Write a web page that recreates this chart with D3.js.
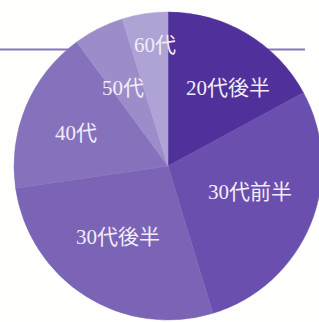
<!DOCTYPE html>
<html>
<head>
<meta charset="utf-8">
<script src="https://cdn.jsdelivr.net/npm/d3@7"></script>
<style>
  html, body { margin: 0; padding: 0; background: #fefefc; }
  svg { display: block; }
</style>
</head>
<body>
<svg></svg>
<script>
var width = 319;
var height = 322;

// age groups, clockwise from 12 o'clock
var labels = ["20代後半", "30代前半", "30代後半", "40代", "50代", "60代"];
var values = [17.1, 28.2, 27.4, 17.2, 5.3, 4.8];
var colors = ["#50309b", "#6a4fae", "#7b64b6", "#8671bd", "#9c8dca", "#aea3d4"];
// label centres (x, y)
var labelX = [228, 250, 118, 76, 123, 155];
var labelY = [88, 192, 237, 133, 88, 45];

const svg = d3.select('svg')
    .attr('width', width)
    .attr('height', height);

// thin rule behind the pie
svg.append('line')
    .attr('x1', 0).attr('x2', 305)
    .attr('y1', 49.5).attr('y2', 49.5)
    .attr('stroke', '#8677bd')
    .attr('stroke-width', 2);

var cx = 168, cy = 166, r = 154;

const pie = d3.pie().sort(null).value(d => d);
const arc = d3.arc().innerRadius(0).outerRadius(r);
const arcs = pie(values);

const g = svg.append('g')
    .attr('transform', `translate(${cx}, ${cy})`);

g.selectAll('path')
    .data(arcs)
    .enter().append('path')
    .attr('d', arc)
    .attr('fill', (d, i) => colors[i])
    .attr('stroke', (d, i) => colors[i])
    .attr('stroke-width', 0.5);

svg.selectAll('text.lbl')
    .data(labels)
    .enter().append('text')
    .attr('class', 'lbl')
    .attr('x', (d, i) => labelX[i])
    .attr('y', (d, i) => labelY[i])
    .attr('text-anchor', 'middle')
    .attr('dominant-baseline', 'central')
    .attr('font-family', '"Liberation Serif", "Noto Sans CJK JP", serif')
    .attr('font-size', 21)
    .attr('fill', '#f1edf8')
    .text(d => d);
</script>
</body>
</html>
